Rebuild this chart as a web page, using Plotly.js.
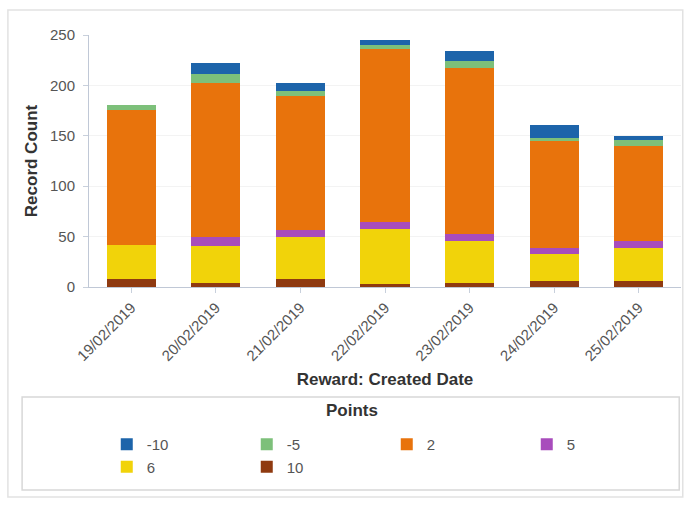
<!DOCTYPE html>
<html>
<head>
<meta charset="utf-8">
<script src="https://cdn.plot.ly/plotly-3.0.1.min.js"></script>
<style>
  html, body { margin: 0; padding: 0; background: #ffffff; }
  #chart { width: 686px; height: 505px; }
</style>
</head>
<body>
<div id="chart"></div>
<script>
// Daily reward records, split by points value
const dates = ['19/02/2019', '20/02/2019', '21/02/2019', '22/02/2019', '23/02/2019', '24/02/2019', '25/02/2019'];
const ptsMinus10 = [0, 11, 8, 5, 10, 13, 4];
const ptsMinus5 = [5, 9, 5, 4, 7, 3, 6];
const pts2 = [134, 152, 132, 172, 164, 106, 94];
const pts5 = [0, 9, 7, 6, 7, 6, 7];
const pts6 = [34, 37, 42, 55, 42, 27, 33];
const pts10 = [8, 4, 8, 3, 4, 6, 6];

const seriesNames = ['10', '6', '5', '2', '-5', '-10'];
const seriesValues = [pts10, pts6, pts5, pts2, ptsMinus5, ptsMinus10];
const seriesColors = ['#8f3a10', '#f1d30a', '#a84cbc', '#e8730c', '#7dc07a', '#1d64aa'];

const traces = seriesNames.map((name, i) => ({
  type: 'bar',
  name: name,
  x: dates,
  y: seriesValues[i],
  marker: { color: seriesColors[i], line: { width: 0 } },
  hoverinfo: 'x+y+name'
}));

const layout = {
  width: 686,
  height: 505,
  margin: { l: 89, r: 5, t: 35, b: 218 },
  paper_bgcolor: '#ffffff',
  plot_bgcolor: '#ffffff',
  barmode: 'stack',
  bargap: 0.42,
  font: { family: 'Liberation Sans, Arial, sans-serif', color: '#555555', size: 15 },
  xaxis: {
    type: 'category',
    tickangle: -45,
    ticks: 'outside',
    ticklen: 5,
    tickcolor: '#c8d0dc',
    showline: true,
    linecolor: '#c0c8d6',
    linewidth: 1,
    showgrid: false,
    tickfont: { size: 15, color: '#555555' },
    title: {
      text: 'Reward: Created Date',
      font: { size: 17, color: '#333333', weight: 'bold' },
      standoff: 10
    }
  },
  yaxis: {
    range: [0, 250],
    tickvals: [0, 50, 100, 150, 200, 250],
    ticks: 'outside',
    ticklen: 5,
    tickcolor: '#c8d0dc',
    ticklabelstandoff: 5,
    showline: true,
    linecolor: '#c0c8d6',
    linewidth: 1,
    showgrid: true,
    gridcolor: '#f3f3f3',
    zeroline: false,
    tickfont: { size: 15, color: '#555555' },
    title: {
      text: 'Record Count',
      font: { size: 17, color: '#333333', weight: 'bold' },
      standoff: 8
    }
  },
  showlegend: true,
  legend: {
    orientation: 'h',
    traceorder: 'reversed',
    x: 0.03,
    xanchor: 'left',
    y: -0.56,
    yanchor: 'top',
    entrywidth: 95,
    entrywidthmode: 'pixels',
    itemwidth: 30,
    font: { size: 15, color: '#555555' },
    bgcolor: 'rgba(0,0,0,0)',
    borderwidth: 0,
    tracegroupgap: 0
  },
  annotations: [
    {
      text: 'Points',
      xref: 'paper', yref: 'paper',
      x: 0.445, y: -0.49,
      xanchor: 'center', yanchor: 'middle',
      showarrow: false,
      font: { size: 17, color: '#333333', weight: 'bold' }
    }
  ],
  shapes: [
    {
      type: 'rect', xref: 'paper', yref: 'paper', layer: 'below',
      x0: -0.137, x1: 1.003, y0: -0.833, y1: 1.099,
      line: { color: '#e2e2e2', width: 1.5 }, fillcolor: 'rgba(0,0,0,0)'
    },
    {
      type: 'rect', xref: 'paper', yref: 'paper', layer: 'below',
      x0: -0.113, x1: 0.997, y0: -0.806, y1: -0.437,
      line: { color: '#d8d8d8', width: 1.5 }, fillcolor: 'rgba(0,0,0,0)'
    }
  ]
};

Plotly.newPlot('chart', traces, layout, { displayModeBar: false, staticPlot: true });
</script>
</body>
</html>
